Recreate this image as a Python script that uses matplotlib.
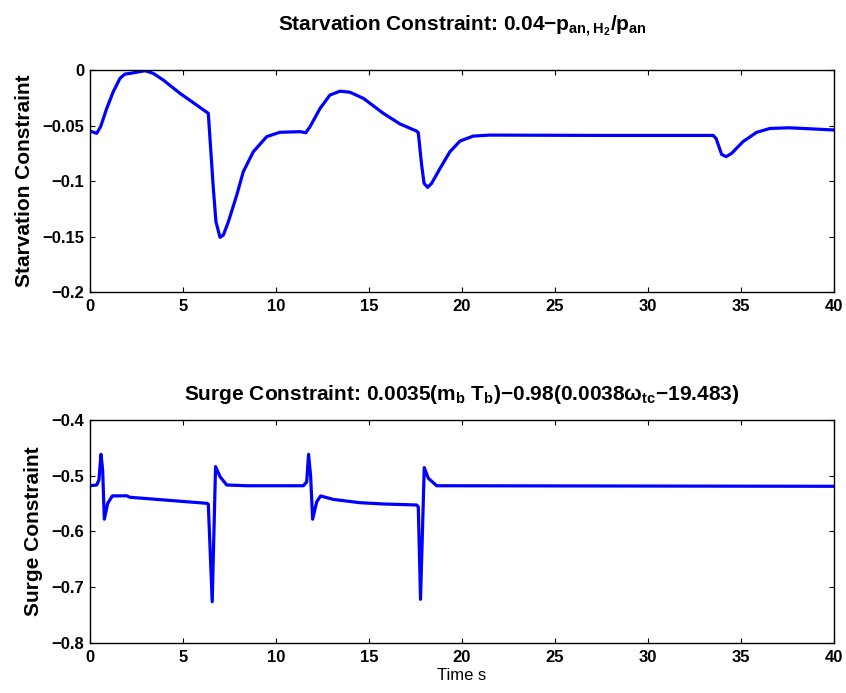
import matplotlib
matplotlib.use("Agg")
import matplotlib.pyplot as plt

plt.rcParams['font.family'] = ['Liberation Sans', 'DejaVu Sans']
plt.rcParams['mathtext.default'] = 'regular'

# starvation constraint
t_starv = [0, 0.36, 0.57, 0.9, 1.25, 1.61, 1.88, 2.15, 2.96, 3.4, 3.94, 4.84, 5.73, 6.36,
           6.45, 6.63, 6.77, 6.99, 7.17, 7.44, 7.89, 8.24, 8.78, 9.5, 10.2, 11.3, 11.6,
           11.83, 12.37, 12.9, 13.44, 13.98, 14.7, 15.77, 16.67, 17.56, 17.65, 17.83,
           17.96, 18.15, 18.37, 18.82, 19.35, 19.89, 20.6, 21.5, 27.4, 33.5, 33.66,
           33.96, 34.2, 34.5, 35.1, 35.84, 36.56, 37.6, 40]
starv = [-0.055, -0.057, -0.051, -0.0345, -0.0195, -0.0075, -0.0036, -0.003, -0.0006,
         -0.003, -0.009, -0.021, -0.0315, -0.039, -0.0615, -0.1066, -0.1366, -0.1507,
         -0.1486, -0.1366, -0.1126, -0.0916, -0.0736, -0.060, -0.0561, -0.0555, -0.0565,
         -0.051, -0.0345, -0.0225, -0.019, -0.020, -0.0255, -0.039, -0.0486, -0.055,
         -0.0565, -0.0856, -0.102, -0.1057, -0.102, -0.0886, -0.0736, -0.064, -0.0595,
         -0.0586, -0.0589, -0.0589, -0.0616, -0.076, -0.078, -0.075, -0.0646, -0.0561,
         -0.0526, -0.052, -0.054]

# surge constraint
t_surge = [0, 0.36, 0.48, 0.59, 0.68, 0.77, 0.95, 1.2, 1.97, 2.15, 6.27, 6.36, 6.57, 6.75,
           6.99, 7.35, 8.42, 11.47, 11.65, 11.75, 11.86, 11.97, 12.19, 12.4, 13.08, 14.5,
           15.77, 17.56, 17.65, 17.77, 17.97, 18.19, 18.64, 40]
surge = [-0.518, -0.5166, -0.5076, -0.4616, -0.4897, -0.578, -0.5495, -0.5363, -0.536,
         -0.5387, -0.5495, -0.551, -0.726, -0.4837, -0.5017, -0.5166, -0.518, -0.518,
         -0.511, -0.4616, -0.50, -0.578, -0.5466, -0.5363, -0.5425, -0.5484, -0.5507,
         -0.5525, -0.556, -0.7217, -0.4855, -0.5046, -0.518, -0.519]

fig = plt.figure(figsize=(8.46, 6.93), dpi=100)
ax1 = fig.add_axes([0.1064, 0.5786, 0.8794, 0.3203])
ax2 = fig.add_axes([0.1064, 0.0722, 0.8794, 0.3218])

bold = {'fontweight': 'bold'}

ax1.plot(t_starv, starv, color='#0000ff', linewidth=2.3)
ax1.set_xlim(0, 40)
ax1.set_ylim(-0.2, 0)
ax1.set_yticks([-0.2, -0.15, -0.1, -0.05, 0])
ax1.set_yticklabels(['\u22120.2', '\u22120.15', '\u22120.1', '\u22120.05', '0'])
ax1.set_ylabel('Starvation Constraint', fontsize=15, labelpad=6, **bold)
ax1.set_title('Starvation Constraint: 0.04\u2212p$_{an,H_2}$/p$_{an}$',
              fontsize=15, y=1.18, pad=0, **bold)

ax2.plot(t_surge, surge, color='#0000ff', linewidth=2.3)
ax2.set_xlim(0, 40)
ax2.set_ylim(-0.8, -0.4)
ax2.set_yticks([-0.8, -0.7, -0.6, -0.5, -0.4])
ax2.set_yticklabels(['\u22120.8', '\u22120.7', '\u22120.6', '\u22120.5', '\u22120.4'])
ax2.set_ylabel('Surge Constraint', fontsize=15, labelpad=6, **bold)
ax2.set_xlabel('Time s', fontsize=12, labelpad=2)
ax2.set_title('Surge Constraint: 0.0035(m$_b$ T$_b$)\u22120.98(0.0038\u03c9$_{tc}$\u221219.483)',
              fontsize=15, y=1.09, pad=0, **bold)

for ax in (ax1, ax2):
    ax.set_xticks(range(0, 41, 5))
    ax.tick_params(direction='in', top=True, right=True, labelsize=12, length=3.5, width=0.8)
    ax.tick_params(axis='x', pad=5)
    ax.tick_params(axis='y', pad=4)
    for s in ax.spines.values():
        s.set_linewidth(1.0)
    for lab in ax.get_xticklabels() + ax.get_yticklabels():
        lab.set_fontweight('bold')

fig.savefig('out.png', dpi=100)
